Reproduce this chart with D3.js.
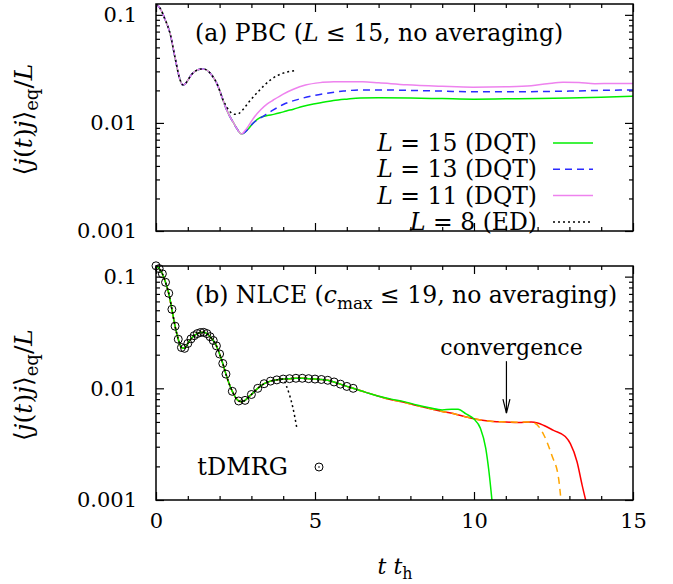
<!DOCTYPE html>
<html>
<head>
<meta charset="utf-8">
<script src="https://cdn.jsdelivr.net/npm/d3@7"></script>
<style>
  body { margin: 0; background: #fff; }
  svg { display: block; }
  text { font-family: "DejaVu Serif", "Liberation Serif", serif; fill: #000; }
</style>
</head>
<body>
<svg id="chart" width="673" height="584"></svg>
<script>
// ---------- data ----------
const timeTicks = [0, 5, 10, 15];
const timeTickLabels = ["0", "5", "10", "15"];
const decadeTicks = [0.1, 0.01, 0.001];
const decadeTickLabels = ["0.1", "0.01", "0.001"];

// (a) periodic chains: shared short-time part, then the branches
const pbcShared = [[0,0.125],[0.13,0.115],[0.29,0.090],[0.44,0.0677],[0.6,0.040],[0.74,0.026],[0.84,0.0225],
  [0.92,0.0230],[1.0,0.0248],[1.1,0.0276],[1.2,0.0296],[1.3,0.0309],[1.44,0.0316],[1.55,0.0313],[1.7,0.0290],
  [1.81,0.0262],[1.9,0.0236],[2.0,0.0200]];
const dqtDip = [[2.1,0.0165],[2.2,0.0137],[2.3,0.0118],[2.44,0.0100],[2.55,0.0088],[2.69,0.0079]];
const dqtL15 = [[2.8,0.0082],[2.9,0.0088],[3.06,0.0100],[3.27,0.0112],[3.5,0.0117],[3.7,0.0120],[3.9,0.0124],
  [4.1,0.0129],[4.32,0.0134],[4.6,0.0142],[4.95,0.0150],[5.3,0.0156],[5.58,0.0161],[6.0,0.0166],[6.42,0.0170],
  [7.0,0.0171],[8.0,0.0170],[9.0,0.0168],[10.0,0.0166],[11.0,0.0167],[12.0,0.0168],[13.0,0.0170],[14.0,0.0173],[15,0.0177]];
const dqtL13 = [[2.8,0.0082],[2.9,0.0088],[3.06,0.0100],[3.3,0.0112],[3.5,0.0122],[3.69,0.0132],[4.0,0.0148],
  [4.53,0.0167],[5.0,0.0180],[5.37,0.0188],[5.9,0.0197],[6.42,0.0202],[7.0,0.0202],[8.0,0.0200],[9.0,0.0197],
  [10.0,0.0194],[11.0,0.0194],[12.0,0.0195],[13.0,0.0197],[14.0,0.0200],[15,0.0202]];
const dqtL11 = [[2.8,0.0085],[2.9,0.0093],[3.06,0.0110],[3.3,0.0133],[3.5,0.0150],[3.69,0.0163],[4.0,0.0185],
  [4.32,0.0205],[4.7,0.0224],[5.16,0.0236],[5.6,0.0240],[6.0,0.0241],[6.5,0.0240],[7.0,0.0235],[7.88,0.0225],
  [9.0,0.0218],[9.97,0.0214],[11.0,0.0216],[11.8,0.0221],[12.3,0.0230],[12.8,0.0238],[13.3,0.0236],[13.8,0.0231],
  [14.4,0.0232],[15,0.0232]];
const edL8 = [[2.1,0.0165],[2.2,0.0145],[2.3,0.0130],[2.4,0.0122],[2.48,0.0120],[2.6,0.0122],[2.7,0.0129],
  [2.8,0.0140],[2.9,0.0153],[3.0,0.0166],[3.2,0.0193],[3.4,0.0222],[3.6,0.0250],[3.8,0.0273],[4.0,0.0289],
  [4.2,0.0299],[4.37,0.0304]];

// (b) NLCE orders: common part, then where each order breaks away
const nlceShared = [[0,0.125],[0.1,0.118],[0.2,0.106],[0.3,0.089],[0.4,0.071],[0.5,0.051],[0.6,0.036],[0.7,0.0275],
  [0.8,0.0232],[0.9,0.0228],[1.0,0.0252],[1.1,0.0277],[1.2,0.0296],[1.3,0.0309],[1.4,0.0316],[1.5,0.0317],
  [1.6,0.0309],[1.7,0.0290],[1.8,0.0268],[1.9,0.0240],[2.0,0.0203],[2.1,0.0167],[2.2,0.0134],[2.3,0.0110],
  [2.4,0.0094],[2.5,0.0083],[2.6,0.0077],[2.7,0.0076],[2.8,0.0078],[2.9,0.0083],[3.0,0.0088],[3.2,0.0100],
  [3.4,0.0110],[3.6,0.0116],[3.8,0.0119],[4.0,0.0121],[4.2,0.0122],[4.4,0.0123],[4.6,0.0123],[4.8,0.0122],
  [5.0,0.0121],[5.2,0.0120],[5.4,0.0118],[5.6,0.0114],[5.8,0.0109],[6.0,0.0104],[6.2,0.0100]];
const nlceRedTail = [[6.6,0.0092],[7.0,0.0085],[7.4,0.0079],[7.8,0.0075],[8.2,0.0070],[8.6,0.0066],[9.0,0.0062],
  [9.4,0.0059],[9.8,0.0055],[10.2,0.0052],[10.6,0.00505],[11.0,0.0050],[11.4,0.00495],[11.8,0.0050],[12.0,0.0049],
  [12.2,0.00465],[12.5,0.0042],[12.87,0.0037],[13.03,0.0032],[13.24,0.0022],[13.4,0.00136],[13.55,0.0009]];
const nlceOrangeTail = [[6.6,0.0092],[7.0,0.0085],[7.4,0.0079],[7.8,0.0075],[8.2,0.0070],[8.6,0.0066],[9.0,0.0062],
  [9.4,0.0059],[9.8,0.0055],[10.2,0.0052],[10.6,0.00505],[11.0,0.0050],[11.4,0.00497],[11.7,0.0050],[11.9,0.0049],
  [12.2,0.0038],[12.45,0.0025],[12.66,0.00156],[12.75,0.0009]];
const nlceGreenTail = [[6.6,0.0092],[7.0,0.0085],[7.4,0.0080],[7.8,0.0076],[8.2,0.0071],[8.6,0.0067],[9.0,0.0064],
  [9.3,0.0065],[9.5,0.0065],[9.75,0.0059],[10.0,0.0053],[10.2,0.0044],[10.37,0.0029],[10.47,0.0018],[10.58,0.0009]];
const nlceBlackTail = [[4.1,0.0105],[4.2,0.0087],[4.3,0.0068],[4.43,0.0044]];

// tDMRG reference points
const tdmrgT = [0,0.1,0.2,0.3,0.4,0.5,0.6,0.7,0.8,0.9,1.0,1.1,1.2,1.3,1.4,1.5,1.6,1.7,1.8,1.9,2.0,2.1,2.2,
  2.4,2.6,2.8,3.0,3.2,3.4,3.6,3.8,4.0,4.2,4.4,4.6,4.8,5.0,5.2,5.4,5.6,5.8,6.0,6.2];
const tdmrgV = [0.125,0.118,0.106,0.089,0.071,0.051,0.036,0.0275,0.0232,0.0228,0.0252,0.0277,0.0296,0.0309,0.0316,
  0.0317,0.0309,0.0290,0.0268,0.0240,0.0203,0.0167,0.0134,0.0094,0.0077,0.0078,0.0088,0.0100,0.0110,0.0116,0.0119,
  0.0121,0.0122,0.0123,0.0123,0.0122,0.0121,0.0120,0.0118,0.0114,0.0109,0.0104,0.0100];

// ---------- layout ----------
const svg = d3.select("#chart");
const FS = 22;      // annotation text
const HFS = 23.5;   // panel headings and legend
const YFS = 25;     // y-axis title
const TFS = 21;     // tick labels
const left = 156, right = 633;
const panelA = { top: 4, bottom: 231, yMax: 0.126 };
const panelB = { top: 266, bottom: 500, yMax: 0.1245 };

const x = d3.scaleLinear().domain([0, 15]).range([left, right]);
const minorTimes = d3.range(0, 16, 1).filter(t => t % 5 !== 0);
const minorDecades = [];
[0.001, 0.01].forEach(d => { for (let k = 2; k <= 9; k++) minorDecades.push(k * d); });

// rich text helper: parts are {t, i (italic), sub}
function rich(textSel, parts, size) {
  let shifted = false;
  const sh = size * 0.24;
  parts.forEach(p => {
    const ts = textSel.append("tspan").text(p.t);
    if (p.i) ts.attr("font-style", "italic");
    if (p.sub && !shifted) { ts.attr("dy", sh).attr("font-size", size * 0.72); shifted = true; }
    else if (p.sub) { ts.attr("font-size", size * 0.72); }
    else if (shifted) { ts.attr("dy", -sh); shifted = false; }
  });
  return textSel;
}

function drawFrame(p, id, showXLabels) {
  const y = d3.scaleLog().domain([0.001, p.yMax]).range([p.bottom, p.top]);
  const g = svg.append("g");

  svg.append("clipPath").attr("id", id).append("rect")
    .attr("x", left).attr("y", p.top).attr("width", right - left).attr("height", p.bottom - p.top);

  const styleAxis = a => {
    a.select(".domain").remove();
    a.selectAll("line").attr("stroke", "#000").attr("stroke-width", 1.2);
    a.selectAll("text").attr("font-size", TFS).attr("font-family", '"DejaVu Serif", serif');
  };

  // x ticks (bottom + mirrored top)
  g.append("g").attr("transform", `translate(0,${p.bottom})`)
    .call(d3.axisBottom(x).tickValues(timeTicks).tickSize(-8).tickPadding(13)
      .tickFormat((d, i) => showXLabels ? timeTickLabels[i] : ""))
    .call(styleAxis);
  g.append("g").attr("transform", `translate(0,${p.bottom})`)
    .call(d3.axisBottom(x).tickValues(minorTimes).tickSize(-4).tickFormat("")).call(styleAxis);
  g.append("g").attr("transform", `translate(0,${p.top})`)
    .call(d3.axisTop(x).tickValues(timeTicks).tickSize(-8).tickFormat("")).call(styleAxis);
  g.append("g").attr("transform", `translate(0,${p.top})`)
    .call(d3.axisTop(x).tickValues(minorTimes).tickSize(-4).tickFormat("")).call(styleAxis);

  // y ticks (left + mirrored right)
  g.append("g").attr("transform", `translate(${left},0)`)
    .call(d3.axisLeft(y).tickValues(decadeTicks).tickSize(-8).tickPadding(19)
      .tickFormat((d, i) => decadeTickLabels[i]))
    .call(styleAxis);
  g.append("g").attr("transform", `translate(${left},0)`)
    .call(d3.axisLeft(y).tickValues(minorDecades).tickSize(-4).tickFormat("")).call(styleAxis);
  g.append("g").attr("transform", `translate(${right},0)`)
    .call(d3.axisRight(y).tickValues(decadeTicks).tickSize(-8).tickFormat("")).call(styleAxis);
  g.append("g").attr("transform", `translate(${right},0)`)
    .call(d3.axisRight(y).tickValues(minorDecades).tickSize(-4).tickFormat("")).call(styleAxis);

  // y title
  const yt = svg.append("text")
    .attr("transform", `translate(32,${(p.top + p.bottom) / 2 + 2}) rotate(-90)`)
    .attr("text-anchor", "middle").attr("font-size", YFS);
  rich(yt, [{t:"⟨"},{t:"j",i:1},{t:"("},{t:"t",i:1},{t:")"},{t:"j",i:1},{t:"⟩"},{t:"eq",sub:1},{t:"/"},{t:"L",i:1}], YFS);

  return y;
}

function plotLine(y, clipId, data, color, dash, width) {
  const line = d3.line().x(d => x(d[0])).y(d => y(d[1])).curve(d3.curveMonotoneX);
  svg.append("path").datum(data)
    .attr("clip-path", `url(#${clipId})`)
    .attr("d", line).attr("fill", "none")
    .attr("stroke", color).attr("stroke-width", width || 1.5)
    .attr("stroke-dasharray", dash || null);
}

function frameBox(p) {
  svg.append("rect").attr("x", left).attr("y", p.top)
    .attr("width", right - left).attr("height", p.bottom - p.top)
    .attr("fill", "none").attr("stroke", "#000").attr("stroke-width", 1.5);
}

// ---------- panel (a) ----------
const yA = drawFrame(panelA, "clipA", false);
const seriesA = [
  { data: [...pbcShared, ...dqtDip, ...dqtL15], color: "#00ee00", dash: null, label: "15", kind: "DQT" },
  { data: [...pbcShared, ...dqtDip, ...dqtL13], color: "#2a2aff", dash: "7,5", label: "13", kind: "DQT" },
  { data: [...pbcShared, ...dqtDip, ...dqtL11], color: "#ee82ee", dash: null, label: "11", kind: "DQT" },
  { data: [...pbcShared, ...edL8], color: "#000", dash: "2,3", label: "8", kind: "ED" }
];
seriesA.forEach(s => plotLine(yA, "clipA", s.data, s.color, s.dash));
frameBox(panelA);

rich(svg.append("text").attr("x", 195).attr("y", 41).attr("font-size", HFS),
  [{t:"(a) PBC ("},{t:"L",i:1},{t:" ≤ 15, no averaging)"}], HFS);

// legend
seriesA.forEach((s, i) => {
  const cy = 143 + i * 26.3;
  rich(svg.append("text").attr("x", 537).attr("y", cy + 8).attr("text-anchor", "end").attr("font-size", HFS),
    [{t:"L",i:1},{t:` = ${s.label} (${s.kind})`}], HFS);
  svg.append("line").attr("x1", 553).attr("x2", 593).attr("y1", cy).attr("y2", cy)
    .attr("stroke", s.color).attr("stroke-width", 1.5).attr("stroke-dasharray", s.dash);
});

// ---------- panel (b) ----------
const yB = drawFrame(panelB, "clipB", true);
plotLine(yB, "clipB", [...nlceShared, ...nlceRedTail], "#ff0000");
plotLine(yB, "clipB", [...nlceShared, ...nlceOrangeTail], "#ffa500", "7,5");
plotLine(yB, "clipB", [...nlceShared, ...nlceGreenTail], "#00ee00");
plotLine(yB, "clipB", [...nlceShared.filter(d => d[0] <= 4.0), ...nlceBlackTail], "#000", "2,3");

const tdmrg = tdmrgT.map((t, i) => [t, tdmrgV[i]]);
const pts = svg.append("g");
tdmrg.forEach(d => {
  pts.append("circle").attr("cx", x(d[0])).attr("cy", yB(d[1])).attr("r", 4)
    .attr("fill", "none").attr("stroke", "#000").attr("stroke-width", 1);
});
frameBox(panelB);

rich(svg.append("text").attr("x", 195).attr("y", 303).attr("font-size", HFS),
  [{t:"(b) NLCE ("},{t:"c",i:1},{t:"max",sub:1},{t:" ≤ 19, no averaging)"}], HFS);

// tDMRG key
svg.append("text").attr("x", 288).attr("y", 475).attr("text-anchor", "end").attr("font-size", 24).text("tDMRG");
svg.append("circle").attr("cx", 319).attr("cy", 467).attr("r", 4)
  .attr("fill", "none").attr("stroke", "#000").attr("stroke-width", 1);
svg.append("circle").attr("cx", 319).attr("cy", 467).attr("r", 0.8).attr("fill", "#000");

// convergence annotation
const arrowT = 11.02, arrowFrom = 0.0175, arrowTo = 0.0060;
svg.append("text").attr("x", x(11.18)).attr("y", yB(0.0197)).attr("text-anchor", "middle")
  .attr("font-size", FS).text("convergence");
const ax = x(arrowT), ay1 = yB(arrowFrom), ay2 = yB(arrowTo);
svg.append("line").attr("x1", ax).attr("x2", ax).attr("y1", ay1).attr("y2", ay2)
  .attr("stroke", "#000").attr("stroke-width", 1.2);
svg.append("path").attr("d", `M${ax - 3.5},${ay2 - 14}L${ax},${ay2}L${ax + 3.5},${ay2 - 14}`)
  .attr("fill", "none").attr("stroke", "#000").attr("stroke-width", 1.2);

// x title
rich(svg.append("text").attr("x", 395).attr("y", 574).attr("text-anchor", "middle").attr("font-size", FS),
  [{t:"t",i:1},{t:" "},{t:"t",i:1},{t:"h",sub:1}], FS);
</script>
</body>
</html>
